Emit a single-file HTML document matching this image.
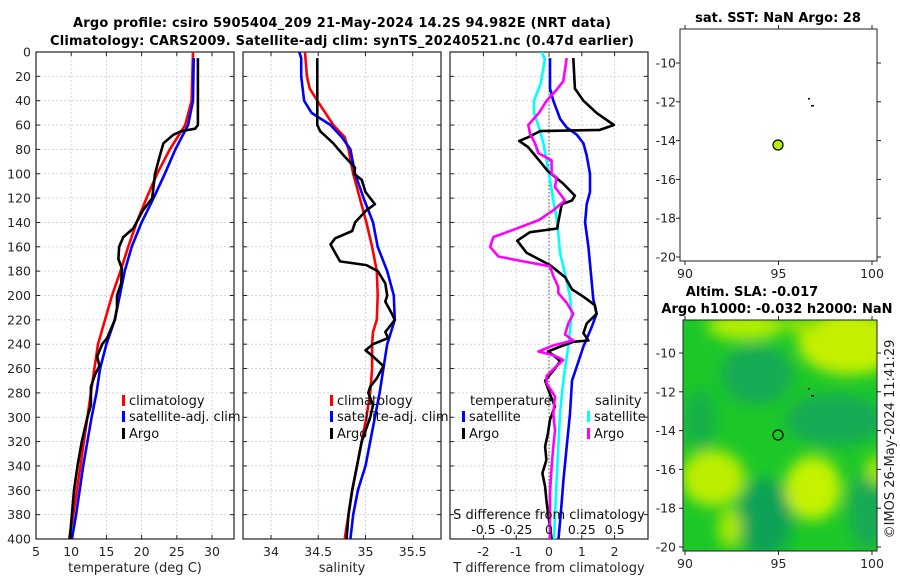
<!DOCTYPE html>
<html><head><meta charset="utf-8"><style>
html,body{margin:0;padding:0;background:#fff;}
svg{display:block;font-family:"DejaVu Sans","Liberation Sans",sans-serif;}
</style></head><body>
<svg id="fig" width="900" height="580" viewBox="0 0 900 580" xmlns="http://www.w3.org/2000/svg">
<defs>
<filter id="blur" x="-50%" y="-50%" width="200%" height="200%"><feGaussianBlur stdDeviation="7"/></filter>
<clipPath id="clipMap2"><rect x="683" y="320" width="194" height="231"/></clipPath>
<clipPath id="clipP1"><rect x="36" y="52" width="198" height="487"/></clipPath>
<clipPath id="clipP2"><rect x="243" y="52" width="198" height="487"/></clipPath>
<clipPath id="clipP3"><rect x="450" y="52" width="198" height="487"/></clipPath>
</defs>
<text x="342" y="27" font-size="13" font-weight="bold" text-anchor="middle" textLength="538">Argo profile: csiro 5905404_209 21-May-2024 14.2S 94.982E (NRT data)</text>
<text x="342" y="45" font-size="13" font-weight="bold" text-anchor="middle" textLength="584">Climatology: CARS2009. Satellite-adj clim: synTS_20240521.nc (0.47d earlier)</text>

<g>
<text x="778" y="22" font-size="13" font-weight="bold" text-anchor="middle">sat. SST: NaN Argo: 28</text>
<rect x="680" y="29" width="197" height="232" fill="#fff" stroke="#222" stroke-width="1"/>
<circle cx="778" cy="145" r="5" fill="#b4f000" stroke="#000" stroke-width="1.2"/>
<rect x="808" y="98" width="2" height="1.5" fill="#000"/><rect x="811" y="105" width="3" height="1.5" fill="#000"/>
</g>

<g>
<text x="752" y="296" font-size="13" font-weight="bold" text-anchor="middle">Altim. SLA: -0.017</text>
<text x="777" y="313" font-size="13" font-weight="bold" text-anchor="middle">Argo h1000: -0.032 h2000: NaN</text>
<g clip-path="url(#clipMap2)">
<rect x="683" y="320" width="194" height="231" fill="#1cc828"/>
<g filter="url(#blur)">
<ellipse cx="757" cy="375" rx="36" ry="30" fill="#12aa55"/>
<ellipse cx="835" cy="420" rx="50" ry="26" fill="#12aa55"/>
<ellipse cx="765" cy="518" rx="28" ry="40" fill="#10a256"/>
<ellipse cx="868" cy="510" rx="20" ry="38" fill="#12aa55"/>
<ellipse cx="700" cy="420" rx="16" ry="30" fill="#14b04a"/>
<ellipse cx="850" cy="343" rx="52" ry="32" fill="#c4f000"/>
<ellipse cx="745" cy="326" rx="38" ry="14" fill="#b4ee00"/>
<ellipse cx="800" cy="325" rx="20" ry="8" fill="#9ee400"/>
<ellipse cx="713" cy="478" rx="32" ry="28" fill="#bcee00"/>
<ellipse cx="813" cy="488" rx="28" ry="32" fill="#c4f200"/>
<ellipse cx="730" cy="528" rx="12" ry="20" fill="#a8e800"/>
<ellipse cx="876" cy="470" rx="10" ry="15" fill="#a8e800"/>
</g>
</g>
<rect x="683" y="320" width="194" height="231" fill="none" stroke="#222" stroke-width="1"/>
<circle cx="778" cy="435" r="5" fill="none" stroke="#000" stroke-width="1.2"/>
<rect x="808" y="388" width="2" height="1.5" fill="#000"/><rect x="811" y="395" width="3" height="1.5" fill="#000"/>
<text transform="translate(894,439) rotate(-90)" font-size="13" text-anchor="middle" fill="#222">©IMOS 26-May-2024 11:41:29</text>
</g>
<g id="plots"></g>
</svg>
<script>
// ---- Temperature panel data ----
const argoTDepth = [5,60,63,65,68,75,85,100,120,130,145,152,160,170,178,190,200,210,220,235,240,250,258,265,275,290,300,320,340,360,380,400];
const argoT = [28.0,28.0,27.6,25.7,24.5,23.1,22.6,21.9,21.5,20.2,18.8,17.4,16.8,16.7,17.2,17.1,16.5,16.5,16.2,15.1,14.4,13.7,14.0,13.4,12.8,12.8,12.3,11.5,10.9,10.4,10.1,9.8];
const climTDepth = [0,40,60,80,100,120,140,160,180,200,240,260,300,340,380,400];
const climT = [27.3,27.1,26.2,24.0,22.2,20.7,19.3,18.1,17.0,15.8,13.8,13.3,12.3,11.3,10.3,9.7];
const satTDepth = [5,40,60,80,100,120,140,160,180,200,220,240,260,280,300,340,380,400];
const satT = [27.4,27.3,26.6,24.8,23.3,21.7,20.0,18.6,17.6,16.9,16.2,15.0,14.1,13.6,12.9,11.7,10.7,10.1];
// ---- Salinity panel data ----
const argoSDepth = [5,60,65,75,85,95,100,105,115,125,130,140,147,153,158,165,172,175,180,190,200,205,215,220,230,235,240,245,250,258,268,275,280,290,300,320,340,360,380,400];
const argoS = [34.49,34.49,34.52,34.66,34.77,34.89,34.88,34.96,35.0,35.10,35.01,34.89,34.86,34.68,34.63,34.68,34.73,35.01,35.13,35.21,35.23,35.21,35.28,35.31,35.21,35.24,35.08,35.0,35.08,35.19,35.12,35.05,35.03,35.08,35.05,34.96,34.91,34.86,34.82,34.80];
const climSDepth = [0,20,30,40,60,70,80,100,120,140,160,180,200,220,230,240,260,280,300,320,340,360,380,400];
const climS = [34.36,34.38,34.41,34.49,34.66,34.78,34.82,34.87,34.94,35.01,35.07,35.12,35.13,35.12,35.08,35.07,35.07,35.05,35.01,34.96,34.91,34.86,34.82,34.78];
const satSDepth = [0,5,20,40,50,60,70,80,100,120,140,160,180,200,220,240,260,280,300,320,340,360,380,400];
const satS = [34.30,34.32,34.32,34.35,34.43,34.63,34.75,34.84,34.89,34.98,35.08,35.13,35.23,35.30,35.31,35.23,35.19,35.15,35.10,35.05,35.0,34.92,34.87,34.84];
// ---- Difference panel data ----
const argoDTDepth = [5,30,40,50,60,64,65,70,73,78,90,98,108,118,122,125,140,145,148,155,165,175,185,195,201,208,215,223,231,237,238,242,246,249,254,260,270,281,291,302,313,324,335,346,357,368,379,390,400];
const argoDT = [0.74,0.79,1.05,1.45,1.98,1.55,-0.27,-0.63,-0.91,-0.64,-0.27,-0.03,0.43,0.79,0.70,0.39,0.28,0.25,-0.58,-0.97,-0.68,0.03,0.49,0.70,1.05,1.40,1.45,1.15,1.05,1.20,0.74,0.34,-0.03,0.13,0.34,0.18,-0.12,0.03,0.18,0.03,-0.03,-0.12,-0.08,-0.20,-0.12,-0.08,-0.03,0.03,0.08];
const satDTDepth = [5,30,40,55,62,68,75,85,100,115,125,140,160,180,203,215,226,242,258,270,297,324,352,379,400];
const satDT = [0.03,0.03,0.13,0.34,0.54,0.85,1.05,1.15,1.25,1.25,1.15,1.10,1.20,1.27,1.35,1.45,1.30,1.05,0.85,0.70,0.64,0.54,0.44,0.36,0.29];
const argoDSDepth = [5,24,31,40,50,60,67,75,83,89,100,103,111,122,130,138,146,152,160,168,172,176,184,193,198,206,215,223,232,237,241,246,249,253,258,266,272,283,297,311,324,341,362,379,400];
const argoDS = [0.135,0.109,0.058,-0.018,-0.076,-0.158,-0.145,-0.107,-0.081,0.02,0.02,0.058,0.046,0.122,0.033,-0.076,-0.272,-0.424,-0.449,-0.386,-0.196,0.008,0.033,0.071,0.071,0.135,0.185,0.147,0.122,0.185,0.033,-0.081,0.033,0.109,0.058,-0.018,-0.018,0.046,0.033,0.046,0.033,0.02,0.008,0.008,0.008];
const satDSDepth = [0,6,26,40,50,62,75,89,105,122,136,149,165,182,201,215,242,270,297,324,352,379,400];
const satDS = [-0.056,-0.031,-0.064,-0.114,-0.114,-0.076,-0.043,-0.018,0.008,0.033,0.058,0.071,0.084,0.122,0.16,0.173,0.147,0.109,0.084,0.071,0.058,0.046,0.038];
// ---- Tick labels ----
const depthTicks = [0,20,40,60,80,100,120,140,160,180,200,220,240,260,280,300,320,340,360,380,400];
const tempTicks = [5,10,15,20,25,30];
const salTicks = [34,34.5,35,35.5];
const dtTicks = [-2,-1,0,1,2];
const dsTickLabels = ["-0.5","-0.25","0","0.25","0.5"];
const dsTicks = [-0.5,-0.25,0,0.25,0.5];
const map1Lat = [-10,-12,-14,-16,-18,-20];
const mapLon = [90,95,100];

const NS='http://www.w3.org/2000/svg';
const root=document.getElementById('plots');
function mk(tag,attrs,parent){const e=document.createElementNS(NS,tag);for(const k in attrs)e.setAttribute(k,attrs[k]);(parent||root).appendChild(e);return e;}
const Y0=52,Y1=539;
function yD(d){return Y0+(d/400)*(Y1-Y0);}
function lin(d0,d1,r0,r1){return v=>r0+(v-d0)/(d1-d0)*(r1-r0);}
const xT=lin(5,30,36,212);
const xS=lin(34,35.5,271,412.7);
const xDT=lin(0,2,549,614.6);
const xDS=v=>549+v*131.2;

function panel(name,x0,ticks,xf,labels,showY,xtitle){
  const g=mk('g',{});
  
  
  depthTicks.forEach(d=>{const l=mk('line',{x1:x0,x2:x0+198,y1:yD(d),y2:yD(d),stroke:'#c8cce6','stroke-width':0.8,'stroke-dasharray':'2,2'},g);
    
    mk('line',{x1:x0,x2:x0+4,y1:yD(d),y2:yD(d),stroke:'#222'},g);mk('line',{x1:x0+194,x2:x0+198,y1:yD(d),y2:yD(d),stroke:'#222'},g);
    if(showY){const t=mk('text',{x:31,y:yD(d)+4.5,'font-size':12.5,'text-anchor':'end',fill:'#262626'},g);t.textContent=d;
      }
  });
  ticks.forEach((v,i)=>{const x=xf(v);
    const l=mk('line',{x1:x,x2:x,y1:Y0,y2:Y1,stroke:'#c8cce6','stroke-width':0.8,'stroke-dasharray':'2,2'},g);
    
    mk('line',{x1:x,x2:x,y1:Y1-4,y2:Y1,stroke:'#222'},g);mk('line',{x1:x,x2:x,y1:Y0,y2:Y0+4,stroke:'#222'},g);
    const t=mk('text',{x:x,y:556,'font-size':12.5,'text-anchor':'middle',fill:'#262626'},g);t.textContent=labels[i];
    
  });
  mk('rect',{x:x0,y:Y0,width:198,height:Y1-Y0,fill:'none',stroke:'#222','stroke-width':1.2},g);
  const tt=mk('text',{x:x0+99,y:572,'font-size':13,'text-anchor':'middle',fill:'#262626'},g);tt.textContent=xtitle;
  
  return g;
}
function line(g,depths,vals,xf,color,name,clip){
  const pts=depths.map((d,i)=>xf(vals[i]).toFixed(1)+','+yD(d).toFixed(1)).join(' ');
  const p=mk('polyline',{points:pts,fill:'none',stroke:color,'stroke-width':2.6,'stroke-linejoin':'round','clip-path':clip},g);
  
  
}
function legend(g,x,y,color,label){
  mk('rect',{x:x,y:y-10,width:3,height:11,fill:color},g);
  const t=mk('text',{x:x+7,y:y,'font-size':13,fill:'#111'},g);t.textContent=label;
  
  
}

const g1=panel('temperature-panel',36,tempTicks,xT,tempTicks.map(String),true,'temperature (deg C)');
line(g1,climTDepth,climT,xT,'#ff0000','temp-climatology-line','url(#clipP1)');
line(g1,satTDepth,satT,xT,'#0000ff','temp-satellite-line','url(#clipP1)');
line(g1,argoTDepth,argoT,xT,'#000','temp-argo-line','url(#clipP1)');
legend(g1,122,405,'#ff0000','climatology');legend(g1,122,421,'#0000ff','satellite-adj. clim');legend(g1,122,438,'#000','Argo');

const g2=panel('salinity-panel',243,salTicks,xS,salTicks.map(String),false,'salinity');
line(g2,climSDepth,climS,xS,'#ff0000','sal-climatology-line','url(#clipP2)');
line(g2,satSDepth,satS,xS,'#0000ff','sal-satellite-line','url(#clipP2)');
line(g2,argoSDepth,argoS,xS,'#000','sal-argo-line','url(#clipP2)');
legend(g2,330,405,'#ff0000','climatology');legend(g2,330,421,'#0000ff','satellite-adj. clim');legend(g2,330,438,'#000','Argo');

const g3=panel('difference-panel',450,dtTicks,xDT,dtTicks.map(String),false,'T difference from climatology');
const zl=mk('line',{x1:xDT(0),x2:xDT(0),y1:Y0,y2:Y1,stroke:'#555533','stroke-width':1,'stroke-dasharray':'1.5,2'},g3);

line(g3,satDTDepth,satDT,xDT,'#0000ff','dt-satellite-line','url(#clipP3)');
line(g3,satDSDepth,satDS,xDS,'#00ffff','ds-satellite-line','url(#clipP3)');
line(g3,argoDTDepth,argoDT,xDT,'#000','dt-argo-line','url(#clipP3)');
line(g3,argoDSDepth,argoDS,xDS,'#ff00ff','ds-argo-line','url(#clipP3)');
const lt=mk('text',{x:470,y:405,'font-size':13,fill:'#111'},g3);lt.textContent='temperature';

const ls=mk('text',{x:595,y:405,'font-size':13,fill:'#111'},g3);ls.textContent='salinity';

legend(g3,462,421,'#0000ff','satellite');legend(g3,462,438,'#000','Argo');
legend(g3,587,421,'#00ffff','satellite');legend(g3,587,438,'#ff00ff','Argo');
const st=mk('text',{x:549,y:519,'font-size':13,'text-anchor':'middle',fill:'#111'},g3);st.textContent='S difference from climatology';

dsTicks.forEach((v,i)=>{const t=mk('text',{x:xDS(v),y:534,'font-size':12.5,'text-anchor':'middle',fill:'#111'},g3);t.textContent=dsTickLabels[i];
  });

// map axes
const lonX=lin(90,100,685,872);
function mapAxes(top,bottom,latMinus10Y,left){
  const g=mk('g',{});
  
  
  map1Lat.forEach(v=>{const y=latMinus10Y+(-10-v)*19.4;
    mk('line',{x1:left,x2:left-4,y1:y,y2:y,stroke:'#222'},g);mk('line',{x1:877,x2:881,y1:y,y2:y,stroke:'#222'},g);
    const t=mk('text',{x:676,y:y+4.5,'font-size':12.5,'text-anchor':'end',fill:'#262626'},g);t.textContent=v;
    });
  mapLon.forEach(v=>{const x=lonX(v);
    mk('line',{x1:x,x2:x,y1:bottom,y2:bottom+4,stroke:'#222'},g);mk('line',{x1:x,x2:x,y1:top,y2:top-4,stroke:'#222'},g);
    const t=mk('text',{x:x,y:bottom+17,'font-size':12.5,'text-anchor':'middle',fill:'#262626'},g);t.textContent=v;
    });
}
mapAxes(29,261,63,680);
mapAxes(320,551,353,683);
</script>
</body></html>
